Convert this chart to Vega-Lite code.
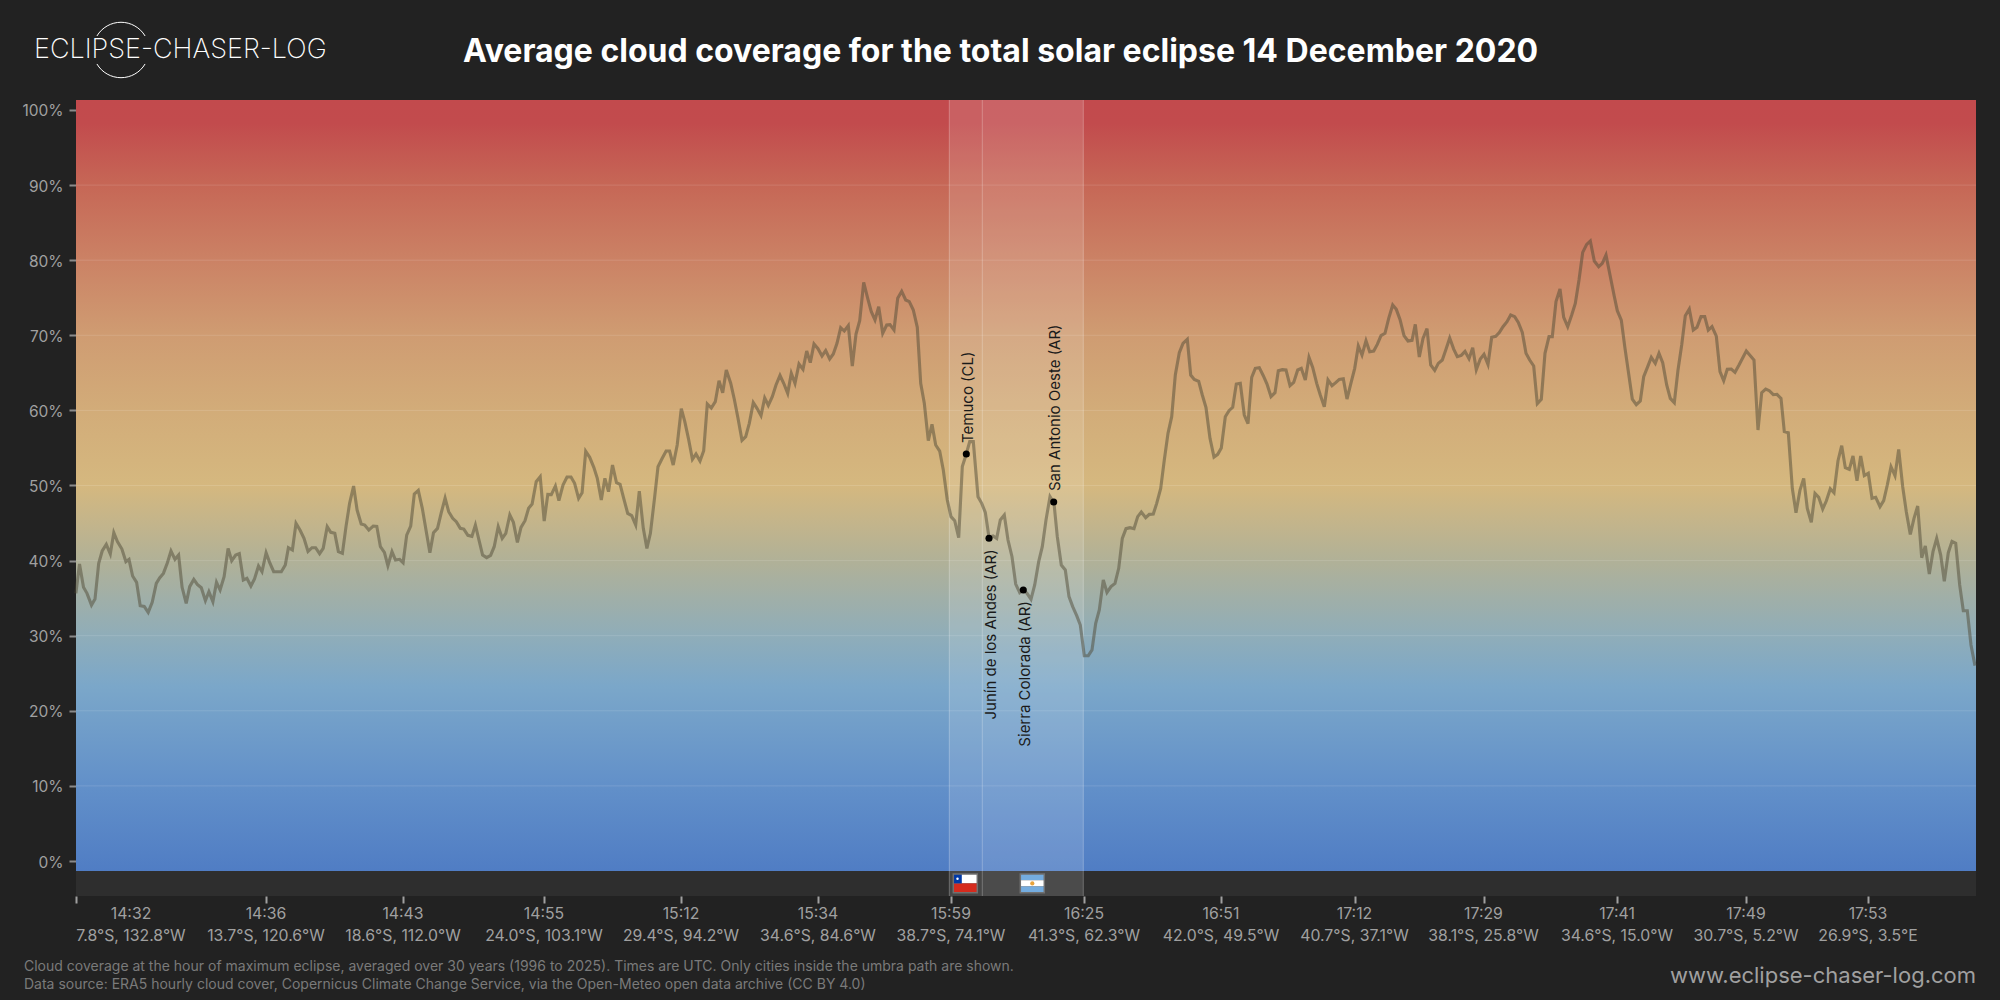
{
"$schema":"https://vega.github.io/schema/vega-lite/v6.json",
"width":1900,"height":796,
"autosize":"none",
"padding":{"left":76,"top":100,"right":24,"bottom":104},
"background":"#222222",
"config":{"view":{"stroke":null},"font":"Inter"},
"title":{"text":"Average cloud coverage for the total solar eclipse 14 December 2020","anchor":"start","frame":"group","dx":387,"dy":63.5,"offset":0,"baseline":"middle","font":"Inter","fontSize":32,"fontWeight":700,"color":"#ffffff"},
"datasets":{
"cloud":[
{"path":75.9,"cloud":35.64},{"path":79.5,"cloud":39.54},{"path":83.5,"cloud":36.44},{"path":87,"cloud":35.64},{"path":91.5,"cloud":34.08},{"path":95,"cloud":34.88},{"path":98.7,"cloud":39.63},{"path":102.2,"cloud":41.28},{"path":106.3,"cloud":42.16},{"path":110.3,"cloud":40.88},{"path":113.8,"cloud":43.72},{"path":117.4,"cloud":42.52},{"path":121.9,"cloud":41.54},{"path":125.9,"cloud":39.86},{"path":129,"cloud":40.17},{"path":132.6,"cloud":37.95},{"path":136.6,"cloud":37.1},{"path":140.2,"cloud":34},{"path":144.2,"cloud":33.9},{"path":148.2,"cloud":33.1},{"path":152.2,"cloud":34.44},{"path":156.3,"cloud":36.97},{"path":159.8,"cloud":37.72},{"path":163.4,"cloud":38.3},{"path":167.4,"cloud":39.72},{"path":171,"cloud":41.28},{"path":175,"cloud":40.17},{"path":178.6,"cloud":40.74},{"path":182.1,"cloud":36.44},{"path":186.2,"cloud":34.31},{"path":189.7,"cloud":36.53},{"path":193.8,"cloud":37.5},{"path":197.3,"cloud":36.84},{"path":201.3,"cloud":36.39},{"path":205.4,"cloud":34.66},{"path":208.9,"cloud":35.86},{"path":212.9,"cloud":34.53},{"path":216.5,"cloud":37.1},{"path":220.1,"cloud":36.08},{"path":224.1,"cloud":37.86},{"path":228.1,"cloud":41.63},{"path":231.7,"cloud":39.99},{"path":235.7,"cloud":40.74},{"path":239.3,"cloud":40.92},{"path":243.3,"cloud":37.41},{"path":246.9,"cloud":37.64},{"path":250.9,"cloud":36.61},{"path":254.5,"cloud":37.55},{"path":258.5,"cloud":39.28},{"path":262,"cloud":38.52},{"path":266.1,"cloud":41.05},{"path":269.6,"cloud":39.77},{"path":273.7,"cloud":38.52},{"path":281.3,"cloud":38.52},{"path":285.3,"cloud":39.41},{"path":288.4,"cloud":41.72},{"path":292.4,"cloud":41.41},{"path":296,"cloud":44.96},{"path":300,"cloud":44.07},{"path":304,"cloud":42.96},{"path":308,"cloud":41.23},{"path":312,"cloud":41.72},{"path":315.6,"cloud":41.72},{"path":319.6,"cloud":40.92},{"path":323.2,"cloud":41.63},{"path":327.2,"cloud":44.52},{"path":330.8,"cloud":43.76},{"path":334.8,"cloud":43.63},{"path":338.4,"cloud":41.19},{"path":342.4,"cloud":40.96},{"path":346,"cloud":44.52},{"path":349.6,"cloud":47.62},{"path":353.6,"cloud":49.93},{"path":357.1,"cloud":46.73},{"path":361.2,"cloud":44.87},{"path":364.7,"cloud":44.74},{"path":368.8,"cloud":44.07},{"path":373.2,"cloud":44.6},{"path":376.8,"cloud":44.56},{"path":380.4,"cloud":41.85},{"path":384.4,"cloud":41.1},{"path":387.9,"cloud":39.32},{"path":392,"cloud":41.19},{"path":395.5,"cloud":40.08},{"path":399.6,"cloud":40.17},{"path":403.1,"cloud":39.72},{"path":406.7,"cloud":43.4},{"path":410.7,"cloud":44.6},{"path":414.3,"cloud":48.87},{"path":418.3,"cloud":49.35},{"path":422.3,"cloud":46.96},{"path":426.3,"cloud":43.85},{"path":429.9,"cloud":41.05},{"path":433.5,"cloud":43.72},{"path":437.5,"cloud":44.29},{"path":441.1,"cloud":46.29},{"path":445.1,"cloud":48.33},{"path":448.7,"cloud":46.51},{"path":452.7,"cloud":45.63},{"path":456.3,"cloud":45.18},{"path":460.3,"cloud":44.29},{"path":463.8,"cloud":44.2},{"path":467.9,"cloud":43.36},{"path":471.9,"cloud":43.23},{"path":475.4,"cloud":44.74},{"path":479,"cloud":42.74},{"path":482.6,"cloud":40.74},{"path":486.6,"cloud":40.39},{"path":490.6,"cloud":40.7},{"path":494.2,"cloud":41.85},{"path":498.2,"cloud":44.52},{"path":502.2,"cloud":42.96},{"path":505.8,"cloud":43.63},{"path":509.8,"cloud":46.07},{"path":513.4,"cloud":45.09},{"path":517.4,"cloud":42.43},{"path":521,"cloud":44.43},{"path":525,"cloud":45.31},{"path":528.6,"cloud":46.96},{"path":532.1,"cloud":47.53},{"path":536.2,"cloud":50.51},{"path":540.2,"cloud":51.17},{"path":544.2,"cloud":45.27},{"path":547.8,"cloud":48.82},{"path":551.3,"cloud":48.78},{"path":555.4,"cloud":49.93},{"path":558.9,"cloud":47.98},{"path":563,"cloud":50.06},{"path":567,"cloud":51.13},{"path":571,"cloud":51.13},{"path":574.6,"cloud":50.29},{"path":578.6,"cloud":48.29},{"path":582.1,"cloud":49.04},{"path":585.7,"cloud":54.55},{"path":589.7,"cloud":53.75},{"path":593.8,"cloud":52.42},{"path":597.3,"cloud":50.95},{"path":601.3,"cloud":48.07},{"path":604.9,"cloud":50.95},{"path":608.5,"cloud":49.18},{"path":612.5,"cloud":52.73},{"path":616.5,"cloud":50.37},{"path":620.1,"cloud":50.15},{"path":623.7,"cloud":48.29},{"path":627.7,"cloud":46.29},{"path":631.7,"cloud":45.98},{"path":635.7,"cloud":44.74},{"path":639.3,"cloud":49.26},{"path":643.3,"cloud":44.29},{"path":646.9,"cloud":41.63},{"path":650.4,"cloud":43.63},{"path":654.5,"cloud":48.29},{"path":658,"cloud":52.49},{"path":662.1,"cloud":53.6},{"path":666.1,"cloud":54.59},{"path":669.6,"cloud":54.59},{"path":673.2,"cloud":52.73},{"path":677.2,"cloud":55.39},{"path":681.3,"cloud":60.23},{"path":684.8,"cloud":58.5},{"path":688.4,"cloud":56.28},{"path":692.4,"cloud":53.48},{"path":696,"cloud":54.19},{"path":700,"cloud":53.26},
{"path":703.7,"cloud":54.64},{"path":707.3,"cloud":60.85},{"path":711.3,"cloud":60.32},{"path":715.3,"cloud":61.16},{"path":719,"cloud":63.96},{"path":722.7,"cloud":62.36},{"path":726.3,"cloud":65.38},{"path":730.7,"cloud":63.61},{"path":734.3,"cloud":61.48},{"path":738,"cloud":58.95},{"path":742,"cloud":56.02},{"path":745.7,"cloud":56.5},{"path":749.3,"cloud":58.28},{"path":753.3,"cloud":61.03},{"path":757,"cloud":60.28},{"path":761,"cloud":59.3},{"path":764.7,"cloud":61.65},{"path":768.3,"cloud":60.68},{"path":772.3,"cloud":61.83},{"path":776,"cloud":63.38},{"path":780,"cloud":64.67},{"path":783.7,"cloud":63.61},{"path":787.7,"cloud":62.27},{"path":791.3,"cloud":64.94},{"path":795,"cloud":63.61},{"path":799,"cloud":66.18},{"path":803,"cloud":65.47},{"path":806.7,"cloud":67.91},{"path":810.3,"cloud":66.36},{"path":814,"cloud":68.84},{"path":818,"cloud":68.22},{"path":822,"cloud":67.25},{"path":825.7,"cloud":67.96},{"path":829.7,"cloud":66.85},{"path":833.3,"cloud":67.51},{"path":837,"cloud":68.93},{"path":840.7,"cloud":71.02},{"path":844.3,"cloud":70.57},{"path":848.3,"cloud":71.28},{"path":852.3,"cloud":65.91},{"path":856,"cloud":70.17},{"path":859.7,"cloud":71.95},{"path":863.7,"cloud":77.05},{"path":867.7,"cloud":74.92},{"path":871.3,"cloud":73.15},{"path":875,"cloud":72.04},{"path":878.7,"cloud":73.81},{"path":882.7,"cloud":70.26},{"path":886.7,"cloud":71.37},{"path":890,"cloud":71.42},{"path":894,"cloud":70.71},{"path":897.7,"cloud":74.92},{"path":901.7,"cloud":75.86},{"path":905.7,"cloud":74.7},{"path":909.3,"cloud":74.48},{"path":913.3,"cloud":73.37},{"path":917.3,"cloud":71.06},
{"path":920.7,"cloud":63.6},{"path":924.3,"cloud":60.94},{"path":928.3,"cloud":55.97},{"path":932,"cloud":58.14},{"path":935.7,"cloud":55.39},{"path":939.7,"cloud":54.59},{"path":943.3,"cloud":52.06},{"path":947.3,"cloud":48.07},{"path":951,"cloud":45.85},{"path":954.7,"cloud":45.32},{"path":958.7,"cloud":43.05},{"path":962.3,"cloud":52.51},{"path":966,"cloud":54.06},{"path":969.7,"cloud":55.84},{"path":973.3,"cloud":55.84},{"path":978,"cloud":48.51},{"path":981.7,"cloud":47.62},{"path":985.3,"cloud":46.43},{"path":989,"cloud":43.1},{"path":993,"cloud":43.28},{"path":996.7,"cloud":42.96},{"path":1000.3,"cloud":45.41},{"path":1004.3,"cloud":46.07},{"path":1008,"cloud":42.74},{"path":1012,"cloud":40.52},{"path":1015.7,"cloud":36.88},{"path":1019.7,"cloud":35.73},{"path":1023.3,"cloud":36.08},{"path":1027,"cloud":35.64},{"path":1031,"cloud":34.84},{"path":1034.7,"cloud":36.75},{"path":1038.7,"cloud":39.86},{"path":1042.3,"cloud":41.85},{"path":1046,"cloud":45.41},{"path":1050,"cloud":48.51},{"path":1054,"cloud":47.62},{"path":1057.3,"cloud":43.19},{"path":1061.3,"cloud":39.41},{"path":1065.3,"cloud":38.75},{"path":1069,"cloud":35.2},{"path":1072.7,"cloud":33.87},{"path":1076.7,"cloud":32.67},{"path":1080.3,"cloud":31.42},{"path":1084.3,"cloud":27.34},{"path":1088.3,"cloud":27.34},{"path":1092,"cloud":28.1},{"path":1095.7,"cloud":31.65},{"path":1099.3,"cloud":33.42},{"path":1103.3,"cloud":37.42},{"path":1107,"cloud":35.77},{"path":1111,"cloud":36.53},{"path":1115,"cloud":36.97},{"path":1118.7,"cloud":38.97},{"path":1122.3,"cloud":42.96},{"path":1126,"cloud":44.25},{"path":1130,"cloud":44.38},{"path":1134,"cloud":44.25},
{"path":1137.7,"cloud":45.85},{"path":1141.3,"cloud":46.47},{"path":1145.7,"cloud":45.71},{"path":1149.3,"cloud":46.16},{"path":1153.3,"cloud":46.2},{"path":1156.7,"cloud":47.62},{"path":1160.7,"cloud":49.62},{"path":1164.3,"cloud":53.39},{"path":1168,"cloud":56.94},{"path":1171.7,"cloud":59.16},{"path":1175.3,"cloud":64.71},{"path":1179.3,"cloud":67.68},{"path":1183,"cloud":68.93},{"path":1187.3,"cloud":69.46},{"path":1190.7,"cloud":64.71},{"path":1194.3,"cloud":64.13},{"path":1198.7,"cloud":63.87},{"path":1202.3,"cloud":62.05},{"path":1206,"cloud":60.36},{"path":1210,"cloud":56.28},{"path":1214,"cloud":53.79},{"path":1217.7,"cloud":54.15},{"path":1221.3,"cloud":54.99},{"path":1225.3,"cloud":59.16},{"path":1229,"cloud":59.96},{"path":1232.7,"cloud":60.41},{"path":1236.3,"cloud":63.51},{"path":1240.3,"cloud":63.6},{"path":1244.3,"cloud":59.38},{"path":1248,"cloud":58.23},{"path":1251.7,"cloud":64.4},{"path":1255.3,"cloud":65.6},{"path":1259.3,"cloud":65.69},{"path":1263.3,"cloud":64.62},{"path":1267,"cloud":63.51},{"path":1271,"cloud":61.83},{"path":1275,"cloud":62.36},{"path":1278.3,"cloud":65.29},{"path":1282.3,"cloud":65.42},{"path":1286,"cloud":65.38},{"path":1290,"cloud":63.29},{"path":1293.7,"cloud":63.73},{"path":1297.7,"cloud":65.38},{"path":1301.3,"cloud":65.6},{"path":1305.3,"cloud":64.05},{"path":1309,"cloud":67.06},{"path":1312.7,"cloud":65.73},{"path":1316.7,"cloud":63.6},{"path":1320.3,"cloud":62.05},{"path":1324.3,"cloud":60.49},{"path":1328,"cloud":64.05},{"path":1332,"cloud":63.29},{"path":1335.7,"cloud":63.69},{"path":1339.3,"cloud":64.13},{"path":1343.3,"cloud":64.22},{"path":1347,"cloud":61.51},{"path":1350.7,"cloud":63.51},{"path":1354.7,"cloud":65.6},{"path":1358.3,"cloud":68.57},{"path":1362,"cloud":67.37},{"path":1366,"cloud":69.28},{"path":1369.7,"cloud":67.82},{"path":1373.7,"cloud":67.91},{"path":1377.3,"cloud":68.79},{"path":1381,"cloud":69.95},{"path":1385,"cloud":70.26},{"path":1388.7,"cloud":72.26},{"path":1392.7,"cloud":74.03},{"path":1396.3,"cloud":73.45},{"path":1400,"cloud":72.12},{"path":1404,"cloud":69.95},{"path":1408,"cloud":69.24},{"path":1412,"cloud":69.33},{"path":1415.3,"cloud":71.46},{"path":1419.3,"cloud":67.11},{"path":1423,"cloud":69.59},{"path":1427,"cloud":70.88},{"path":1430.7,"cloud":66.04},{"path":1434.7,"cloud":65.33},{"path":1438.3,"cloud":66.26},{"path":1442.3,"cloud":66.71},{"path":1446,"cloud":68.13},{"path":1449.7,"cloud":69.64},{"path":1453.7,"cloud":68.17},{"path":1457.3,"cloud":67.15},{"path":1461.3,"cloud":67.33},{"path":1465,"cloud":67.86},{"path":1469,"cloud":66.89},{"path":1472.7,"cloud":68.35},{"path":1476.3,"cloud":65.42},{"path":1480.3,"cloud":66.84},{"path":1484,"cloud":67.46},{"path":1488,"cloud":66.13},{"path":1491.7,"cloud":69.73},{"path":1495.7,"cloud":69.86},{"path":1499.3,"cloud":70.35},{"path":1503,"cloud":71.15},{"path":1507,"cloud":71.81},{"path":1510.7,"cloud":72.7},{"path":1514.7,"cloud":72.48},{"path":1518.3,"cloud":71.72},{"path":1522.3,"cloud":70.39},{"path":1526,"cloud":67.6},{"path":1529.7,"cloud":66.71},{"path":1533.7,"cloud":65.91},{"path":1537.3,"cloud":60.89},{"path":1541.3,"cloud":61.47},{"path":1545,"cloud":67.6},{"path":1549,"cloud":69.82},
{"path":1552.3,"cloud":69.82},{"path":1556,"cloud":74.48},{"path":1560,"cloud":76.16},{"path":1563.7,"cloud":72.39},{"path":1567.7,"cloud":71.15},{"path":1571.7,"cloud":72.7},{"path":1575.3,"cloud":74.25},{"path":1579,"cloud":77.36},{"path":1582.7,"cloud":81.04},{"path":1586.7,"cloud":82.11},{"path":1590.3,"cloud":82.55},{"path":1594.3,"cloud":79.89},{"path":1598.7,"cloud":79.14},{"path":1602.3,"cloud":79.58},{"path":1606,"cloud":80.69},{"path":1610,"cloud":78.03},{"path":1614,"cloud":75.36},{"path":1617.3,"cloud":73.28},{"path":1621.3,"cloud":72.03},{"path":1625,"cloud":68.26},{"path":1628.7,"cloud":64.84},{"path":1632.3,"cloud":61.51},{"path":1636.3,"cloud":60.76},{"path":1640.3,"cloud":61.25},{"path":1643.7,"cloud":64.49},{"path":1647.7,"cloud":65.82},{"path":1651.3,"cloud":67.06},{"path":1655.3,"cloud":66.26},{"path":1659,"cloud":67.6},{"path":1662.7,"cloud":66.35},{"path":1666.7,"cloud":63.38},{"path":1670.3,"cloud":61.6},{"path":1674.3,"cloud":61.03},{"path":1678,"cloud":65.38},{"path":1681.7,"cloud":68.71},{"path":1685.3,"cloud":72.61},{"path":1689.3,"cloud":73.5},{"path":1693.3,"cloud":70.7},{"path":1697,"cloud":71.06},{"path":1701,"cloud":72.48},{"path":1704.7,"cloud":72.48},{"path":1708.3,"cloud":70.7},{"path":1712,"cloud":71.15},{"path":1716.3,"cloud":69.9},{"path":1720,"cloud":65.15},{"path":1723.7,"cloud":63.96},{"path":1727.3,"cloud":65.47},{"path":1731.3,"cloud":65.51},{"path":1735,"cloud":65.07},{"path":1739,"cloud":66.04},{"path":1746.3,"cloud":67.91},{"path":1754,"cloud":66.71},{"path":1758,"cloud":57.39},{"path":1761.7,"cloud":62.36},{"path":1765.7,"cloud":62.85},{"path":1769.3,"cloud":62.62},{"path":1773.3,"cloud":62.09},{"path":1777,"cloud":62.14},{"path":1781,"cloud":61.6},{"path":1784.3,"cloud":57.17},{"path":1788.3,"cloud":57.03},{"path":1792.3,"cloud":49.62},{"path":1796,"cloud":46.38},{"path":1800,"cloud":49.4},{"path":1803.7,"cloud":50.95},{"path":1807.3,"cloud":46.96},{"path":1811.3,"cloud":45.09},{"path":1815,"cloud":48.95},{"path":1818.7,"cloud":48.42},{"path":1822.7,"cloud":46.87},{"path":1826.3,"cloud":47.93},{"path":1830.3,"cloud":49.58},{"path":1834,"cloud":49.04},{"path":1838,"cloud":53.3},{"path":1841.7,"cloud":55.3},{"path":1845.3,"cloud":52.37},{"path":1849.3,"cloud":52.15},{"path":1853,"cloud":53.93},{"path":1857,"cloud":50.64},{"path":1860.7,"cloud":53.93},{"path":1864.3,"cloud":51.31},{"path":1868.3,"cloud":51.62},{"path":1872,"cloud":48.29},{"path":1875.7,"cloud":48.42},{"path":1880,"cloud":47.18},{"path":1883.7,"cloud":47.98},{"path":1887.3,"cloud":50.06},{"path":1891,"cloud":52.5},{"path":1895,"cloud":51.31},{"path":1898.7,"cloud":54.81},{"path":1902.7,"cloud":49.84},{"path":1906.3,"cloud":46.51},{"path":1910.3,"cloud":43.49},{"path":1914,"cloud":45.63},{"path":1917.7,"cloud":47.27},{"path":1921.7,"cloud":40.39},{"path":1925.3,"cloud":41.94},{"path":1929.3,"cloud":38.21},{"path":1933,"cloud":41.19},{"path":1936.7,"cloud":42.96},{"path":1940.7,"cloud":40.74},{"path":1944.3,"cloud":37.24},{"path":1948.3,"cloud":41.05},{"path":1952,"cloud":42.56},{"path":1955.7,"cloud":42.3},{"path":1959.7,"cloud":36.75},{"path":1963.3,"cloud":33.33},{"path":1967.3,"cloud":33.33},{"path":1971,"cloud":28.76},{"path":1975,"cloud":26.01}
],
"ticks":[
{"path":76,"labelPath":131,"time":"14:32","place":"7.8°S, 132.8°W","timeRow":-7.06,"placeRow":-9.95},
{"path":266,"labelPath":266,"time":"14:36","place":"13.7°S, 120.6°W","timeRow":-7.06,"placeRow":-9.95},
{"path":403,"labelPath":403,"time":"14:43","place":"18.6°S, 112.0°W","timeRow":-7.06,"placeRow":-9.95},
{"path":544,"labelPath":544,"time":"14:55","place":"24.0°S, 103.1°W","timeRow":-7.06,"placeRow":-9.95},
{"path":681,"labelPath":681,"time":"15:12","place":"29.4°S, 94.2°W","timeRow":-7.06,"placeRow":-9.95},
{"path":818,"labelPath":818,"time":"15:34","place":"34.6°S, 84.6°W","timeRow":-7.06,"placeRow":-9.95},
{"path":951,"labelPath":951,"time":"15:59","place":"38.7°S, 74.1°W","timeRow":-7.06,"placeRow":-9.95},
{"path":1084,"labelPath":1084,"time":"16:25","place":"41.3°S, 62.3°W","timeRow":-7.06,"placeRow":-9.95},
{"path":1221,"labelPath":1221,"time":"16:51","place":"42.0°S, 49.5°W","timeRow":-7.06,"placeRow":-9.95},
{"path":1354.5,"labelPath":1354.5,"time":"17:12","place":"40.7°S, 37.1°W","timeRow":-7.06,"placeRow":-9.95},
{"path":1483.5,"labelPath":1483.5,"time":"17:29","place":"38.1°S, 25.8°W","timeRow":-7.06,"placeRow":-9.95},
{"path":1617,"labelPath":1617,"time":"17:41","place":"34.6°S, 15.0°W","timeRow":-7.06,"placeRow":-9.95},
{"path":1746,"labelPath":1746,"time":"17:49","place":"30.7°S, 5.2°W","timeRow":-7.06,"placeRow":-9.95},
{"path":1868,"labelPath":1868,"time":"17:53","place":"26.9°S, 3.5°E","timeRow":-7.06,"placeRow":-9.95}
],
"cities":[
{"city":"Temuco (CL)","path":966.3,"cloud":54.2,"side":"above"},
{"city":"Junín de los Andes (AR)","path":989,"cloud":42.97,"side":"below"},
{"city":"Sierra Colorada (AR)","path":1023.3,"cloud":36.08,"side":"below"},
{"city":"San Antonio Oeste (AR)","path":1053.7,"cloud":47.8,"side":"above"}
],
"flags":[
{"part":"white","start":953.3,"end":977.3,"top":-1.73,"bottom":-2.98},
{"part":"red","start":953.3,"end":977.3,"top":-2.98,"bottom":-4.22},
{"part":"blue","start":953.3,"end":961.8,"top":-1.73,"bottom":-2.98},
{"part":"sky","start":1020.3,"end":1044.3,"top":-1.73,"bottom":-2.56},
{"part":"white","start":1020.3,"end":1044.3,"top":-2.56,"bottom":-3.39},
{"part":"sky","start":1020.3,"end":1044.3,"top":-3.39,"bottom":-4.22}
]
},
"encoding":{
"x":{"field":"path","type":"quantitative","scale":{"domain":[76,1976],"nice":false,"zero":false},"title":null,
"axis":{"values":[76,266,403,544,681,818,951,1084,1221,1354.5,1483.5,1617,1746,1868],"labels":false,"domain":false,"grid":false,"tickSize":7,"tickWidth":2,"tickColor":"#a0a0a0"}},
"y":{"field":"cloud","type":"quantitative","scale":{"domain":[-4.66,101.33],"nice":false,"zero":false},"title":null,
"axis":{"values":[0,10,20,30,40,50,60,70,80,90,100],"labelExpr":"datum.value + '%'","domain":false,"grid":false,"tickSize":7,"tickWidth":2,"tickColor":"#8a8a8a","labelColor":"#a0a0a0","labelFont":"Inter","labelFontSize":15.5,"labelPadding":6,"labelOffset":1}}
},
"layer":[
{"data":{"values":[{"start":76,"end":1976,"top":101.33,"bottom":-1.33}]},
 "mark":{"type":"rect","color":{"gradient":"linear","x1":0,"y1":0,"x2":0,"y2":1,"stops":[
  {"offset":0,"color":"#c24a4d"},{"offset":0.03,"color":"#c24b4d"},{"offset":0.11,"color":"#c66756"},{"offset":0.208,"color":"#cb8265"},{"offset":0.305,"color":"#cf9c72"},{"offset":0.403,"color":"#d2ac79"},{"offset":0.5,"color":"#d5b87f"},{"offset":0.597,"color":"#b1b197"},{"offset":0.695,"color":"#8fadb9"},{"offset":0.76,"color":"#7ba7c9"},{"offset":0.889,"color":"#6290c9"},{"offset":1,"color":"#507dc4"}]}},
 "encoding":{"x":{"field":"start","type":"quantitative"},"x2":{"field":"end"},"y":{"field":"top","type":"quantitative"},"y2":{"field":"bottom"}}},
{"data":{"values":[{"start":76,"end":1976,"top":-1.33,"bottom":-4.66}]},
 "mark":{"type":"rect","color":"#2e2e2e"},
 "encoding":{"x":{"field":"start","type":"quantitative"},"x2":{"field":"end"},"y":{"field":"top","type":"quantitative"},"y2":{"field":"bottom"}}},
{"data":{"values":[{"country":"Chile","start":949.3,"end":982.3,"top":101.33,"bottom":-1.33},{"country":"Argentina","start":982.3,"end":1083.3,"top":101.33,"bottom":-1.33}]},
 "mark":{"type":"rect","color":"#ffffff"},
 "encoding":{"x":{"field":"start","type":"quantitative"},"x2":{"field":"end"},"y":{"field":"top","type":"quantitative"},"y2":{"field":"bottom"},
  "opacity":{"field":"country","type":"nominal","legend":null,"scale":{"domain":["Chile","Argentina"],"range":[0.12,0.14]}}}},
{"data":{"values":[{"band":"Chile","start":949.3,"end":982.3,"top":-1.33,"bottom":-4.66},{"band":"Argentina","start":982.3,"end":1083.3,"top":-1.33,"bottom":-4.66}]},
 "mark":{"type":"rect","color":"#ffffff"},
 "encoding":{"x":{"field":"start","type":"quantitative"},"x2":{"field":"end"},"y":{"field":"top","type":"quantitative"},"y2":{"field":"bottom"},
  "opacity":{"field":"band","type":"nominal","legend":null,"scale":{"domain":["Chile","Argentina"],"range":[0.03,0.09]}}}},
{"data":{"values":[{"cloud":10,"start":76,"end":1976},{"cloud":20,"start":76,"end":1976},{"cloud":30,"start":76,"end":1976},{"cloud":40,"start":76,"end":1976},{"cloud":50,"start":76,"end":1976},{"cloud":60,"start":76,"end":1976},{"cloud":70,"start":76,"end":1976},{"cloud":80,"start":76,"end":1976},{"cloud":90,"start":76,"end":1976}]},
 "mark":{"type":"rule","color":"#ffffff","opacity":0.13,"strokeWidth":1},
 "encoding":{"x":{"field":"start","type":"quantitative"},"x2":{"field":"end"}}},
{"data":{"values":[{"path":949.3,"top":101.33,"bottom":-4.66},{"path":982.3,"top":101.33,"bottom":-4.66},{"path":1083.3,"top":101.33,"bottom":-4.66}]},
 "mark":{"type":"rule","color":"#ffffff","opacity":0.26,"strokeWidth":1},
 "encoding":{"y":{"field":"top","type":"quantitative"},"y2":{"field":"bottom"}}},
{"data":{"name":"flags"},
 "mark":{"type":"rect"},
 "encoding":{"x":{"field":"start","type":"quantitative"},"x2":{"field":"end"},"y":{"field":"top","type":"quantitative"},"y2":{"field":"bottom"},
  "color":{"field":"part","type":"nominal","legend":null,"scale":{"domain":["white","red","blue","sky"],"range":["#ffffff","#d52b1e","#0039a6","#74acdf"]}}}},
{"data":{"values":[{"start":953.3,"end":977.3,"top":-1.73,"bottom":-4.22},{"start":1020.3,"end":1044.3,"top":-1.73,"bottom":-4.22}]},
 "mark":{"type":"rect","fillOpacity":0,"stroke":"#707070","strokeWidth":1.5},
 "encoding":{"x":{"field":"start","type":"quantitative"},"x2":{"field":"end"},"y":{"field":"top","type":"quantitative"},"y2":{"field":"bottom"}}},
{"data":{"values":[{"path":1032.3,"cloud":-2.98}]},
 "mark":{"type":"point","filled":true,"color":"#e8a33d","size":18,"opacity":1}},
{"data":{"values":[{"path":957.5,"cloud":-2.35}]},
 "mark":{"type":"point","filled":true,"color":"#ffffff","size":6,"opacity":1}},
{"data":{"name":"cloud"},
 "mark":{"type":"line","color":"#504a36","opacity":0.5,"strokeWidth":3.1,"interpolate":"linear"}},
{"data":{"name":"cities"},
 "mark":{"type":"point","filled":true,"color":"#000000","size":50,"opacity":1}},
{"data":{"name":"cities"},"transform":[{"filter":"datum.side === 'above'"}],
 "mark":{"type":"text","angle":270,"align":"left","baseline":"middle","dx":11,"dy":1.5,"font":"Inter","fontSize":15,"color":"#1a1a1a"},
 "encoding":{"text":{"field":"city"}}},
{"data":{"name":"cities"},"transform":[{"filter":"datum.side === 'below'"}],
 "mark":{"type":"text","angle":270,"align":"right","baseline":"middle","dx":-11,"dy":1.5,"font":"Inter","fontSize":15,"color":"#1a1a1a"},
 "encoding":{"text":{"field":"city"}}},
{"data":{"name":"ticks"},
 "mark":{"type":"text","font":"Inter","fontSize":15.8,"color":"#a0a0a0"},
 "encoding":{"x":{"field":"labelPath","type":"quantitative"},"y":{"field":"timeRow","type":"quantitative"},"text":{"field":"time"}}},
{"data":{"name":"ticks"},
 "mark":{"type":"text","font":"Inter","fontSize":15.8,"color":"#a0a0a0"},
 "encoding":{"x":{"field":"labelPath","type":"quantitative"},"y":{"field":"placeRow","type":"quantitative"},"text":{"field":"place"}}},
{"data":{"values":[
  {"path":24,"cloud":-14.1,"note":"Cloud coverage at the hour of maximum eclipse, averaged over 30 years (1996 to 2025). Times are UTC. Only cities inside the umbra path are shown."},
  {"path":24,"cloud":-16.5,"note":"Data source: ERA5 hourly cloud cover, Copernicus Climate Change Service, via the Open-Meteo open data archive (CC BY 4.0)"}]},
 "mark":{"type":"text","align":"left","font":"Inter","fontSize":14,"color":"#7a7a7a"},
 "encoding":{"text":{"field":"note"}}},
{"data":{"values":[{"path":1976,"cloud":-15.27,"site":"www.eclipse-chaser-log.com"}]},
 "mark":{"type":"text","align":"right","font":"Inter","fontSize":22,"color":"#a0a0a0"},
 "encoding":{"text":{"field":"site"}}},
{"data":{"values":[{"path":34,"cloud":107.99,"logo":"ECLIPSE-CHASER-LOG"}]},
 "mark":{"type":"text","align":"left","font":"Inter","fontWeight":200,"fontSize":27,"color":"#ffffff"},
 "encoding":{"text":{"field":"logo"}}},
{"data":{"values":[{"path":121,"cloud":107.99}]},
 "mark":{"type":"point","shape":"M-0.86,-0.5 A1,1 0 0 1 0.86,-0.5 M-0.86,0.5 A1,1 0 0 0 0.86,0.5","size":3136,"stroke":"#ffffff","strokeWidth":1,"opacity":1,"fillOpacity":0}}
]
}
